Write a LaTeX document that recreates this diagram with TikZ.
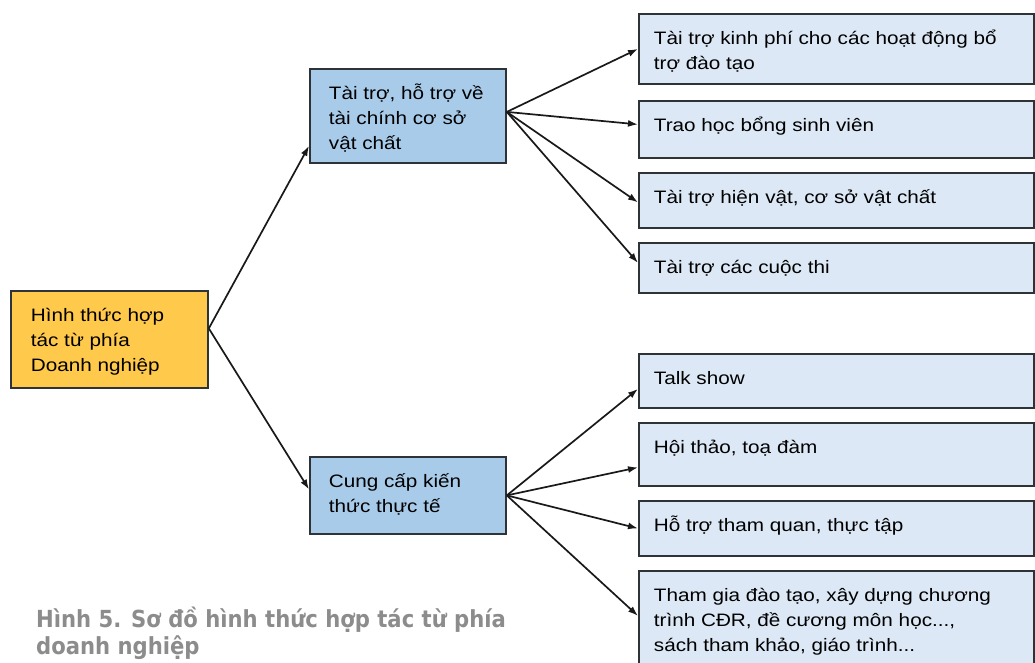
\documentclass[tikz,border=0pt]{standalone}
\usepackage{fontspec}
\setmainfont[FakeStretch=1.15]{Liberation Sans}
\newfontfamily\capfont[FakeStretch=0.9]{DejaVu Sans}
\usetikzlibrary{arrows.meta,positioning}
\definecolor{formfill}{HTML}{FFC94C}
\definecolor{groupfill}{HTML}{A8CBEA}
\definecolor{itemfill}{HTML}{DCE8F5}
\definecolor{edgegray}{HTML}{2E3338}
\definecolor{captiongray}{HTML}{8C8C8C}
\tikzset{basic/.style={draw=edgegray,line width=1.8pt,anchor=north west,
                       inner ysep=13pt,font=\fontsize{18}{25}\selectfont}}
\tikzset{form/.style={basic,fill=formfill,inner xsep=20pt}}
\tikzset{group/.style={basic,fill=groupfill,inner xsep=19pt}}
\tikzset{item/.style={basic,fill=itemfill,inner xsep=15pt}}
\tikzset{link/.style={draw=black!90,line width=1.7pt,-{Latex[length=10pt,width=7pt]}}}
\newcommand{\boxtext}[3]{\parbox[c][#2][t]{#1}{\raggedright\strut #3}}

\begin{document}
\begin{tikzpicture}[x=1pt,y=-1pt]
    \useasboundingbox (0,0) rectangle (1035,662);
    % Draw root node
    \node[form] (form) at (10,290) {\boxtext{157pt}{71pt}{Hình thức hợp\\tác từ phía\\Doanh nghiệp}};
    % Draw the two groups
    \node[group] (finance) at (309,68) {\boxtext{158pt}{68pt}{Tài trợ, hỗ trợ về\\tài chính cơ sở\\vật chất}};
    \node[group] (knowledge) at (309,456) {\boxtext{158pt}{51pt}{Cung cấp kiến\\thức thực tế}};
    % Draw items of the first group
    \foreach \t/\h/\txt [count=\i] in {13/70/{Tài trợ kinh phí cho các hoạt động bổ\\trợ đào tạo},
                                      100/57/{Trao học bổng sinh viên},
                                      172/55/{Tài trợ hiện vật, cơ sở vật chất},
                                      242/50/{Tài trợ các cuộc thi}}{%
          \node[item] (fin\i) at (638,\t) {\boxtext{365pt}{\dimexpr\h pt-26pt\relax}{\txt}};
        }
    % Draw items of the second group
    \foreach \t/\h/\txt [count=\i] in {353/54/{Talk show},
                                      422/63/{Hội thảo, toạ đàm},
                                      500/55/{Hỗ trợ tham quan, thực tập},
                                      570/100/{Tham gia đào tạo, xây dựng chương\\trình CĐR, đề cương môn học...,\\sách tham khảo, giáo trình...}}{%
          \node[item] (kn\i) at (638,\t) {\boxtext{365pt}{\dimexpr\h pt-26pt\relax}{\txt}};
        }
    % Edges from root to groups
    \draw[link] ([yshift=11pt]form.east) -- ([yshift=-30pt]finance.west);
    \draw[link] ([yshift=11pt]form.east) -- ([yshift=6pt]knowledge.west);
    % Edges from groups to items
    \foreach \i/\dy in {1/0,2/5,3/-2,4/5}{%
          \draw[link] ([yshift=4pt]finance.east) -- ([yshift=\dy pt]fin\i.west);
        }
    \foreach \i/\dy in {1/-8,2/-13,3/0,4/5}{%
          \draw[link] (knowledge.east) -- ([yshift=\dy pt]kn\i.west);
        }
    % Caption
    \node[anchor=north west,align=left,text=captiongray,inner sep=0pt,
          font=\capfont\bfseries\fontsize{23.5}{27}\selectfont] (caption) at (36,607)
          {Hình 5. Sơ đồ hình thức hợp tác từ phía\\doanh nghiệp};
\end{tikzpicture}
\end{document}
